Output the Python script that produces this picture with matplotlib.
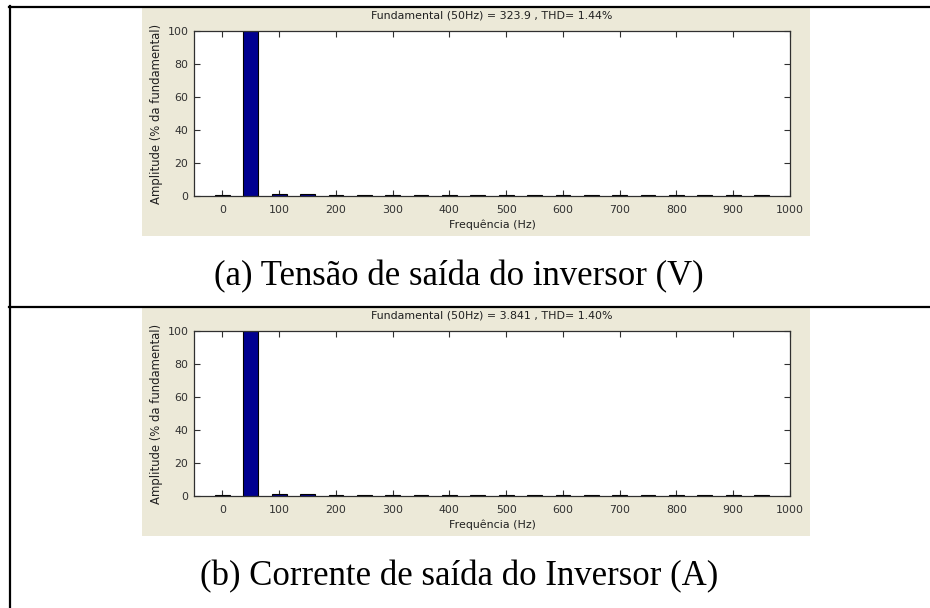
import matplotlib
matplotlib.use("Agg")
import matplotlib.pyplot as plt
from matplotlib.patches import Rectangle
from matplotlib.lines import Line2D

# ---- data ----
freqs = [0, 50, 100, 150, 200, 250, 300, 350, 400, 450, 500, 550, 600, 650, 700, 750, 800, 850, 900, 950]
amp_voltage = [0.5, 100, 1.2, 1.1, 0.5, 0.5, 0.5, 0.5, 0.5, 0.5, 0.5, 0.5, 0.5, 0.5, 0.5, 0.5, 0.5, 0.5, 0.5, 0.5]
amp_current = [0.5, 100, 1.2, 1.1, 0.5, 0.5, 0.5, 0.5, 0.5, 0.5, 0.5, 0.5, 0.5, 0.5, 0.5, 0.5, 0.5, 0.5, 0.5, 0.5]
titles = ["Fundamental (50Hz) = 323.9 , THD= 1.44%",
          "Fundamental (50Hz) = 3.841 , THD= 1.40%"]
captions = ["(a) Tensão de saída do inversor (V)",
            "(b) Corrente de saída do Inversor (A)"]
xticks = [0, 100, 200, 300, 400, 500, 600, 700, 800, 900, 1000]
yticks = [0, 20, 40, 60, 80, 100]
xlabel = "Frequência (Hz)"
ylabel = "Amplitude (% da fundamental)"

W, H = 930, 608
fig = plt.figure(figsize=(W / 100, H / 100), dpi=100, facecolor="white")


def rect(x0, y0, x1, y1):
    return [x0 / W, 1 - y1 / H, (x1 - x0) / W, (y1 - y0) / H]


def fx(x):
    return x / W


def fy(y):
    return 1 - y / H


panel_bg = "#ECE9D8"
series = [amp_voltage, amp_current]
offsets = [0, 300]
fs = 7.9

for i in range(2):
    off = offsets[i]
    # gray MATLAB figure background
    fig.patches.append(Rectangle((fx(142), fy(236 + off)), fx(810) - fx(142),
                                 fy(8 + off) - fy(236 + off),
                                 transform=fig.transFigure, facecolor=panel_bg,
                                 edgecolor="none", zorder=-5))
    ax = fig.add_axes(rect(194, 31 + off, 790, 196 + off))
    ax.set_zorder(2)
    ax.set_facecolor("white")
    ax.bar(freqs, series[i], width=26, color="#000090", edgecolor="black",
           linewidth=0.8, zorder=2)
    ax.set_xlim(-50, 1000)
    ax.set_ylim(0, 100)
    ax.set_xticks(xticks)
    ax.set_yticks(yticks)
    ax.tick_params(direction="in", length=4, width=0.8, colors="#303030",
                   labelsize=fs, top=True, right=True)
    ax.tick_params(axis="x", pad=6.5)
    ax.tick_params(axis="y", pad=4)
    for s in ax.spines.values():
        s.set_color("#303030")
        s.set_linewidth(0.9)
    ax.set_title(titles[i], fontsize=fs, color="#202020", pad=9)
    ax.set_xlabel(xlabel, fontsize=fs, color="#202020", labelpad=3)
    ax.set_ylabel(ylabel, fontsize=8.4, color="#202020", labelpad=3)
    fig.text(fx(459), fy(277 + off), captions[i], ha="center", va="center",
             fontsize=25, family="Liberation Serif", color="black")

# table borders
lw = 1.6
fig.lines.append(Line2D([fx(9), 1], [fy(7), fy(7)], transform=fig.transFigure,
                        color="black", linewidth=lw))
fig.lines.append(Line2D([fx(9), 1], [fy(307), fy(307)], transform=fig.transFigure,
                        color="black", linewidth=lw))
fig.lines.append(Line2D([fx(10), fx(10)], [fy(6), 0], transform=fig.transFigure,
                        color="black", linewidth=lw))

fig.savefig("out.png", dpi=100, facecolor="white")
